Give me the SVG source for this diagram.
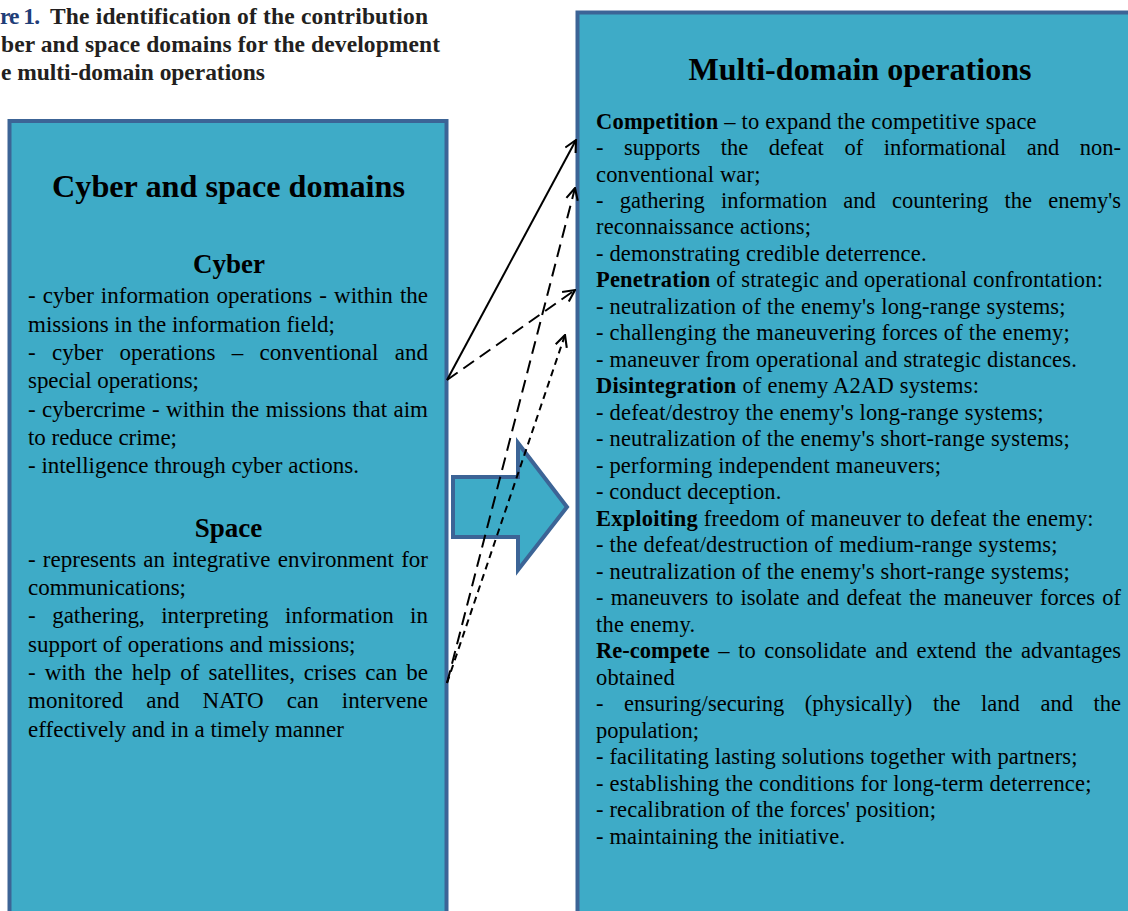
<svg xmlns="http://www.w3.org/2000/svg" width="1128" height="911" viewBox="0 0 1128 911">
  <style>
    .cap { font-family: "Liberation Serif", "Times New Roman", serif; font-weight: bold; font-size: 23.5px; fill: #231f20; }
    .capnum { fill: #1f3e78; }
    .box { fill: #3eabc7; stroke: #3c6496; stroke-width: 4; }
    .h1 { font-family: "Liberation Serif", "Times New Roman", serif; font-weight: bold; font-size: 32px; fill: #000; text-anchor: middle; }
    .h2 { font-family: "Liberation Serif", "Times New Roman", serif; font-weight: bold; font-size: 27px; fill: #000; text-anchor: middle; }
    .tl { font-family: "Liberation Serif", "Times New Roman", serif; font-size: 23px; fill: #000; }
    .tr { font-family: "Liberation Serif", "Times New Roman", serif; font-size: 22.5px; fill: #000; }
    .b { font-weight: bold; }
    .link { fill: none; stroke: #000; stroke-width: 2; }
    .dashL { stroke-dasharray: 13 7; }
    .dashS { stroke-dasharray: 7 5; }
  </style>
  <defs>
    <marker id="open" viewBox="0 0 12 12" refX="11" refY="6" markerWidth="14" markerHeight="14" markerUnits="userSpaceOnUse" orient="auto">
      <path d="M1,1 L11,6 L1,11" fill="none" stroke="#000" stroke-width="1.8"/>
    </marker>
  </defs>

  <rect width="1128" height="911" fill="#fff"/>

  <!-- caption -->
  <g id="caption">
    <text class="cap capnum" x="0" y="24" textLength="40" lengthAdjust="spacing">re 1.</text>
    <text class="cap" x="50" y="24" textLength="378" lengthAdjust="spacing">The identification of the contribution</text>
    <text class="cap" x="1" y="52" textLength="439" lengthAdjust="spacing">ber and space domains for the development</text>
    <text class="cap" x="1" y="80" textLength="264" lengthAdjust="spacing">e multi-domain operations</text>
  </g>

  <!-- left panel: cyber and space -->
  <g id="cyber-space">
    <rect class="box" x="9.5" y="121" width="437" height="800"/>
    <text class="h1" x="228.5" y="197" textLength="353" lengthAdjust="spacingAndGlyphs">Cyber and space domains</text>
    <text class="h2" x="229" y="273">Cyber</text>
    <text class="tl" x="28" y="303.3" textLength="400" lengthAdjust="spacing" style="word-spacing:1.3px">- cyber information operations - within the</text>
    <text class="tl" x="28" y="331.7" textLength="307" lengthAdjust="spacing">missions in the information field;</text>
    <text class="tl" x="28" y="360" textLength="400" lengthAdjust="spacing" style="word-spacing:10.6px">- cyber operations – conventional and</text>
    <text class="tl" x="28" y="388.3" textLength="171" lengthAdjust="spacing">special operations;</text>
    <text class="tl" x="28" y="416.7" textLength="400" lengthAdjust="spacing" style="word-spacing:0.7px">- cybercrime - within the missions that aim</text>
    <text class="tl" x="28" y="445" textLength="149" lengthAdjust="spacing">to reduce crime;</text>
    <text class="tl" x="28" y="473.3" textLength="331" lengthAdjust="spacing">- intelligence through cyber actions.</text>
    <text class="h2" x="228.5" y="536.7">Space</text>
    <text class="tl" x="28" y="566.7" textLength="400" lengthAdjust="spacing" style="word-spacing:1.4px">- represents an integrative environment for</text>
    <text class="tl" x="28" y="595" textLength="158" lengthAdjust="spacing">communications;</text>
    <text class="tl" x="28" y="623.3" textLength="400" lengthAdjust="spacing" style="word-spacing:10.7px">- gathering, interpreting information in</text>
    <text class="tl" x="28" y="651.7" textLength="327.5" lengthAdjust="spacing">support of operations and missions;</text>
    <text class="tl" x="28" y="680" textLength="400" lengthAdjust="spacing" style="word-spacing:3.2px">- with the help of satellites, crises can be</text>
    <text class="tl" x="28" y="708.3" textLength="400" lengthAdjust="spacing" style="word-spacing:17px">monitored and NATO can intervene</text>
    <text class="tl" x="28" y="736.7" textLength="316" lengthAdjust="spacing">effectively and in a timely manner</text>
  </g>

  <!-- right panel: multi-domain operations -->
  <g id="multi-domain">
    <rect class="box" x="577.5" y="12.5" width="600" height="950"/>
    <text class="h1" x="860" y="80" textLength="343" lengthAdjust="spacingAndGlyphs">Multi-domain operations</text>
    <text class="tr" x="596" y="128.5" textLength="440.6" lengthAdjust="spacing"><tspan class="b">Competition</tspan> – to expand the competitive space</text>
    <text class="tr" x="596" y="155" textLength="525" lengthAdjust="spacing" style="word-spacing:14.9px">- supports the defeat of informational and non-</text>
    <text class="tr" x="596" y="181.5" textLength="164.4" lengthAdjust="spacing">conventional war;</text>
    <text class="tr" x="596" y="208" textLength="525" lengthAdjust="spacing" style="word-spacing:10.6px">- gathering information and countering the enemy's</text>
    <text class="tr" x="596" y="234.4" textLength="215" lengthAdjust="spacing">reconnaissance actions;</text>
    <text class="tr" x="596" y="260.9" textLength="330.5" lengthAdjust="spacing">- demonstrating credible deterrence.</text>
    <text class="tr" x="596" y="287.4" textLength="507" lengthAdjust="spacing"><tspan class="b">Penetration</tspan> of strategic and operational confrontation:</text>
    <text class="tr" x="596" y="313.9" textLength="469.6" lengthAdjust="spacing">- neutralization of the enemy's long-range systems;</text>
    <text class="tr" x="596" y="340.3" textLength="473.8" lengthAdjust="spacing">- challenging the maneuvering forces of the enemy;</text>
    <text class="tr" x="596" y="366.8" textLength="480.8" lengthAdjust="spacing">- maneuver from operational and strategic distances.</text>
    <text class="tr" x="596" y="393.3" textLength="382.9" lengthAdjust="spacing"><tspan class="b">Disintegration</tspan> of enemy A2AD systems:</text>
    <text class="tr" x="596" y="419.8" textLength="447.6" lengthAdjust="spacing">- defeat/destroy the enemy's long-range systems;</text>
    <text class="tr" x="596" y="446.3" textLength="473.8" lengthAdjust="spacing">- neutralization of the enemy's short-range systems;</text>
    <text class="tr" x="596" y="472.7" textLength="345" lengthAdjust="spacing">- performing independent maneuvers;</text>
    <text class="tr" x="596" y="499.2" textLength="185.3" lengthAdjust="spacing">- conduct deception.</text>
    <text class="tr" x="596" y="525.7" textLength="497.6" lengthAdjust="spacing"><tspan class="b">Exploiting</tspan> freedom of maneuver to defeat the enemy:</text>
    <text class="tr" x="596" y="552.2" textLength="461.6" lengthAdjust="spacing">- the defeat/destruction of medium-range systems;</text>
    <text class="tr" x="596" y="578.7" textLength="473.8" lengthAdjust="spacing">- neutralization of the enemy's short-range systems;</text>
    <text class="tr" x="596" y="605.1" textLength="525" lengthAdjust="spacing" style="word-spacing:1.7px">- maneuvers to isolate and defeat the maneuver forces of</text>
    <text class="tr" x="596" y="631.6" textLength="99" lengthAdjust="spacing">the enemy.</text>
    <text class="tr" x="596" y="658.1" textLength="525" lengthAdjust="spacing" style="word-spacing:3px"><tspan class="b">Re-compete</tspan> – to consolidate and extend the advantages</text>
    <text class="tr" x="596" y="684.6" textLength="78.7" lengthAdjust="spacing">obtained</text>
    <text class="tr" x="596" y="711.1" textLength="525" lengthAdjust="spacing" style="word-spacing:15px">- ensuring/securing (physically) the land and the</text>
    <text class="tr" x="596" y="737.5" textLength="103" lengthAdjust="spacing">population;</text>
    <text class="tr" x="596" y="764" textLength="481.5" lengthAdjust="spacing">- facilitating lasting solutions together with partners;</text>
    <text class="tr" x="596" y="790.5" textLength="495.5" lengthAdjust="spacing">- establishing the conditions for long-term deterrence;</text>
    <text class="tr" x="596" y="817" textLength="340" lengthAdjust="spacing">- recalibration of the forces' position;</text>
    <text class="tr" x="596" y="843.5" textLength="249" lengthAdjust="spacing">- maintaining the initiative.</text>
  </g>

  <!-- block arrow between the panels -->
  <g id="flow-arrow">
    <polygon class="box" points="453,477 518,477 518,443 567,507 518,570 518,537 453,537"/>
  </g>

  <!-- connectors -->
  <g id="connectors">
    <line class="link" x1="447" y1="380" x2="576" y2="140" marker-end="url(#open)"/>
    <line class="link dashL" x1="447" y1="380" x2="575" y2="290" marker-end="url(#open)"/>
    <line class="link dashL" x1="447" y1="683" x2="575" y2="188" marker-end="url(#open)"/>
    <line class="link dashS" x1="447" y1="683" x2="565" y2="335" marker-end="url(#open)"/>
  </g>
</svg>
